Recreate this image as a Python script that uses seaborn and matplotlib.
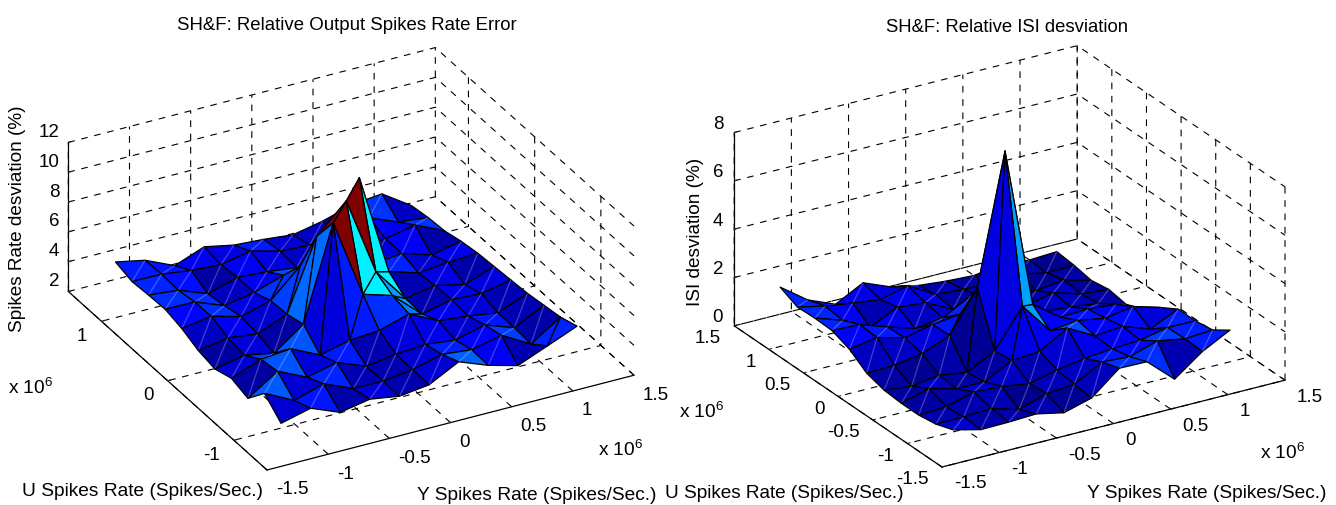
import numpy as np
import matplotlib
matplotlib.use('Agg')
import matplotlib.pyplot as plt
import seaborn as sns
from mpl_toolkits.mplot3d import proj3d
from mpl_toolkits.mplot3d.art3d import Poly3DCollection

sns.set_style('white')
plt.rcParams['font.family'] = ['Liberation Sans', 'DejaVu Sans']
plt.rcParams['mathtext.default'] = 'regular'
plt.rcParams['text.color'] = 'black'

W, H = 1336, 505

# rates in units of 10^6 spikes/sec
y_rate = [-1.25, -1.008, -0.766, -0.524, -0.282, -0.04, 0.202, 0.444, 0.686, 0.928, 1.17]
u_rate = [-1.25, -1.0, -0.75, -0.5, -0.25, 0.0, 0.25, 0.5, 0.75, 1.0, 1.25]

# rows go with u_rate, columns with y_rate
rate_error = [
    [3.60, 4.10, 3.31, 3.68, 3.37, 3.62, 4.65, 3.90, 3.37, 4.18, 4.99],
    [4.61, 3.63, 4.22, 3.40, 3.38, 3.63, 4.15, 3.95, 4.40, 3.30, 4.60],
    [3.28, 4.58, 3.67, 4.14, 3.38, 3.68, 3.82, 3.60, 4.10, 3.40, 4.40],
    [3.63, 4.39, 4.58, 3.65, 4.13, 4.26, 4.86, 3.90, 3.70, 3.40, 4.20],
    [3.26, 3.66, 3.29, 4.72, 11.0, 5.70, 5.10, 3.35, 3.80, 3.70, 4.10],
    [3.50, 3.83, 3.59, 4.39, 9.10, 10.96, 5.70, 3.40, 3.75, 3.30, 4.00],
    [3.98, 4.28, 3.75, 4.30, 6.10, 4.90, 11.0, 4.20, 3.60, 3.80, 3.90],
    [4.27, 4.24, 3.49, 3.85, 4.50, 3.90, 3.80, 3.70, 3.90, 3.30, 3.70],
    [4.22, 4.03, 3.29, 3.87, 3.73, 3.50, 3.60, 3.50, 3.90, 4.30, 3.40],
    [4.13, 4.11, 3.85, 3.72, 4.12, 3.60, 3.50, 3.40, 4.30, 3.50, 3.30],
    [4.45, 4.05, 3.18, 3.93, 3.53, 3.40, 3.20, 3.60, 4.20, 4.40, 3.10],
]

isi_dev = [
    [0.75, 0.47, 0.49, 0.54, 0.30, 0.62, 1.56, 1.54, 0.53, 1.38, 1.98],
    [0.50, 0.51, 0.57, 0.23, 0.60, 0.70, 1.33, 1.26, 1.62, 1.42, 1.50],
    [0.39, 0.44, 0.76, 0.70, 0.53, 0.80, 1.00, 1.10, 1.17, 1.40, 1.39],
    [0.39, 0.71, 0.41, 0.41, 1.00, 1.09, 1.76, 1.15, 1.25, 0.85, 1.39],
    [0.45, 0.32, 0.48, 0.31, 0.91, 2.47, 1.17, 1.30, 1.10, 1.30, 0.97],
    [0.66, 0.70, 0.89, 1.35, 3.04, 8.40, 1.77, 0.95, 1.00, 0.90, 0.41],
    [1.17, 1.36, 1.06, 1.32, 1.45, 1.20, 0.80, 0.70, 0.60, 0.45, 0.13],
    [1.45, 1.41, 1.02, 0.67, 0.82, 1.43, 0.60, 0.45, 0.70, 0.35, 0.26],
    [1.48, 1.10, 0.53, 1.06, 0.96, 0.40, 0.64, 0.50, 0.30, 0.45, 0.14],
    [1.45, 1.20, 1.03, 0.89, 1.17, 0.52, 0.44, 0.40, 0.50, 0.25, 0.28],
    [1.79, 0.97, 0.50, 1.10, 0.64, 0.41, 0.30, 0.24, 0.40, 0.30, 0.36],
]

y_ticks = [-1.5, -1, -0.5, 0, 0.5, 1, 1.5]
u_ticks_left = [-1, 0, 1]
u_ticks_right = [-1.5, -1, -0.5, 0, 0.5, 1, 1.5]
z_ticks_left = [2, 4, 6, 8, 10, 12]
z_ticks_right = [0, 2, 4, 6, 8]

# seaborn refuses the name 'jet', so blend the same stops
jet_stops = [(0, 0, 0.5), (0, 0, 1), (0, 0.5, 1), (0, 1, 1), (0.5, 1, 0.5),
             (1, 1, 0), (1, 0.5, 0), (1, 0, 0), (0.5, 0, 0)]
cmap = sns.blend_palette(jet_stops, as_cmap=True)
fig = plt.figure(figsize=(W / 100, H / 100), dpi=100)


def to_disp(ax, x, y, z):
    x2, y2, _ = proj3d.proj_transform(x, y, z, ax.get_proj())
    return x2, y2


def fit_box(ax, zmin, bottom_px, right_px):
    # scale and shift the square axes so two floor corners land on given pixels
    ax.set_position([0.2, 0.2, 0.5, 0.5])
    ax.apply_aspect()
    a = ax.transData.transform(to_disp(ax, -1.5, -1.5, zmin))
    b = ax.transData.transform(to_disp(ax, 1.5, -1.5, zmin))
    scale = (right_px[0] - bottom_px[0]) / (b[0] - a[0])
    box = ax.get_position()
    side = box.height * H * scale
    ax.set_position([0, 0, side / W, side / H])
    ax.apply_aspect()
    a = ax.transData.transform(to_disp(ax, -1.5, -1.5, zmin))
    ax.set_position([(bottom_px[0] - a[0]) / W, (H - bottom_px[1] - a[1]) / H, side / W, side / H])
    ax.apply_aspect()


def surface(ax, z, vmin, vmax, view, aspect, zlim, overrides=()):
    z = np.array(z)
    c = z.copy()
    for i, j, val in overrides:
        c[j, i] = val
    norm = plt.Normalize(vmin, vmax)
    X, Y = np.meshgrid(y_rate, u_rate)

    elev, azim = np.radians(view[0]), np.radians(view[1])
    toward = np.array([np.cos(elev) * np.cos(azim), np.cos(elev) * np.sin(azim), np.sin(elev)])
    ranges = np.array([3.0, 3.0, zlim[1] - zlim[0]])
    bias = 0.004 * toward * ranges / (np.array(aspect) / max(aspect))

    verts, faces, edges = [], [], []
    for j in range(z.shape[0] - 1):
        for i in range(z.shape[1] - 1):
            p = [(X[j, i], Y[j, i], z[j, i]), (X[j, i + 1], Y[j, i + 1], z[j, i + 1]),
                 (X[j + 1, i + 1], Y[j + 1, i + 1], z[j + 1, i + 1]), (X[j + 1, i], Y[j + 1, i], z[j + 1, i])]
            col = cmap(norm(c[j, i]))
            if z[j:j + 2, i:i + 2].max() - z[j:j + 2, i:i + 2].min() > 1.5:
                # steep faces, draw as the two triangles
                verts += [[p[0], p[1], p[2]], [p[0], p[2], p[3]]]
                faces += [col, col]
                edges += ['k', 'k']
            else:
                verts.append(p)
                faces.append(col)
                edges.append('k')
                verts.append([np.array(p[0]) + bias, np.array(p[2]) + bias])
                faces.append((0, 0, 0, 0))
                edges.append((1, 1, 1, 0.25))
    ax.add_collection3d(Poly3DCollection(verts, facecolors=faces, edgecolors=edges, linewidths=0.9))


def style_axes(ax, u_ticks, z_ticks, zlim, view, aspect):
    ax.set_proj_type('ortho')
    ax.view_init(elev=view[0], azim=view[1])
    ax.set_box_aspect(aspect)
    ax.set_xlim(-1.5, 1.5)
    ax.set_ylim(-1.5, 1.5)
    ax.set_zlim(*zlim)
    ax.set_xticks(y_ticks, labels=[''] * len(y_ticks))
    ax.set_yticks(u_ticks, labels=[''] * len(u_ticks))
    ax.set_zticks(z_ticks, labels=[''] * len(z_ticks))
    ax.patch.set_alpha(0)
    for axis in (ax.xaxis, ax.yaxis, ax.zaxis):
        axis.set_pane_color((1, 1, 1, 0))
        axis.pane.set_edgecolor('none')
        axis._axinfo['grid'].update(color='k', linewidth=0.8, linestyle=(0, (6, 6)))
        axis._axinfo['tick'].update(inward_factor=0.0, outward_factor=0.1)
        axis.line.set_color('k')
        axis.line.set_linewidth(0.9)


def tick_labels(ax, u_ticks, z_ticks, zlim, x_off, u_off, z_off):
    kw = dict(xycoords='data', textcoords='offset pixels', fontsize=13.5, annotation_clip=False, va='center')
    for t in y_ticks:
        ax.annotate(f'{t:g}', to_disp(ax, t, -1.5, zlim[0]), xytext=x_off, ha='left', **kw)
    for t in u_ticks:
        ax.annotate(f'{t:g}', to_disp(ax, -1.5, t, zlim[0]), xytext=u_off, ha='right', **kw)
    for t in z_ticks:
        ax.annotate(f'{t:g}', to_disp(ax, -1.5, 1.5, t), xytext=z_off, ha='right', **kw)


def px_text(x, y, s, **kw):
    fig.text(x / W, 1 - y / H, s, ha='center', va='center', **kw)


# left panel
view_l, aspect_l = (28.8, -118.2), (416, 420, 170)
ax1 = fig.add_subplot(121, projection='3d')
style_axes(ax1, u_ticks_left, z_ticks_left, (2, 12), view_l, aspect_l)
surface(ax1, rate_error, 3.0, 10.5, view_l, aspect_l, (2, 12), overrides=[(6, 6, 5.7)])
fit_box(ax1, 2, (267, 470), (634, 375))
tick_labels(ax1, u_ticks_left, z_ticks_left, (2, 12), (9, -20), (-14, -15), (-9, 10))

# right panel
view_r, aspect_r = (24.5, -121.4), (401, 398, 212)
ax2 = fig.add_subplot(122, projection='3d')
style_axes(ax2, u_ticks_right, z_ticks_right, (0, 8), view_r, aspect_r)
surface(ax2, isi_dev, 0.13, 8.4, view_r, aspect_r, (0, 8))
fit_box(ax2, 0, (942, 467), (1285, 380))
tick_labels(ax2, u_ticks_right, z_ticks_right, (0, 8), (12, -17), (-13, -13), (-11, 8))

px_text(347, 25, 'SH&F: Relative Output Spikes Rate Error', fontsize=13.4)
px_text(1007, 28, 'SH&F: Relative ISI desviation', fontsize=13.3)
px_text(18, 219, 'Spikes Rate desviation (%)', fontsize=13.7, rotation=90)
px_text(695, 232, 'ISI desviation (%)', fontsize=13.7, rotation=90)
px_text(142, 491, 'U Spikes Rate (Spikes/Sec.)', fontsize=13.8)
px_text(537, 496, 'Y Spikes Rate (Spikes/Sec.)', fontsize=13.8)
px_text(784, 494, 'U Spikes Rate (Spikes/Sec.)', fontsize=13.7)
px_text(1207, 493, 'Y Spikes Rate (Spikes/Sec.)', fontsize=13.8)
for x, y in [(31, 388), (621, 450), (702, 412), (1283, 453)]:
    px_text(x, y, 'x 10$^{6}$', fontsize=13.8)

fig.savefig('out.png', dpi=100)
